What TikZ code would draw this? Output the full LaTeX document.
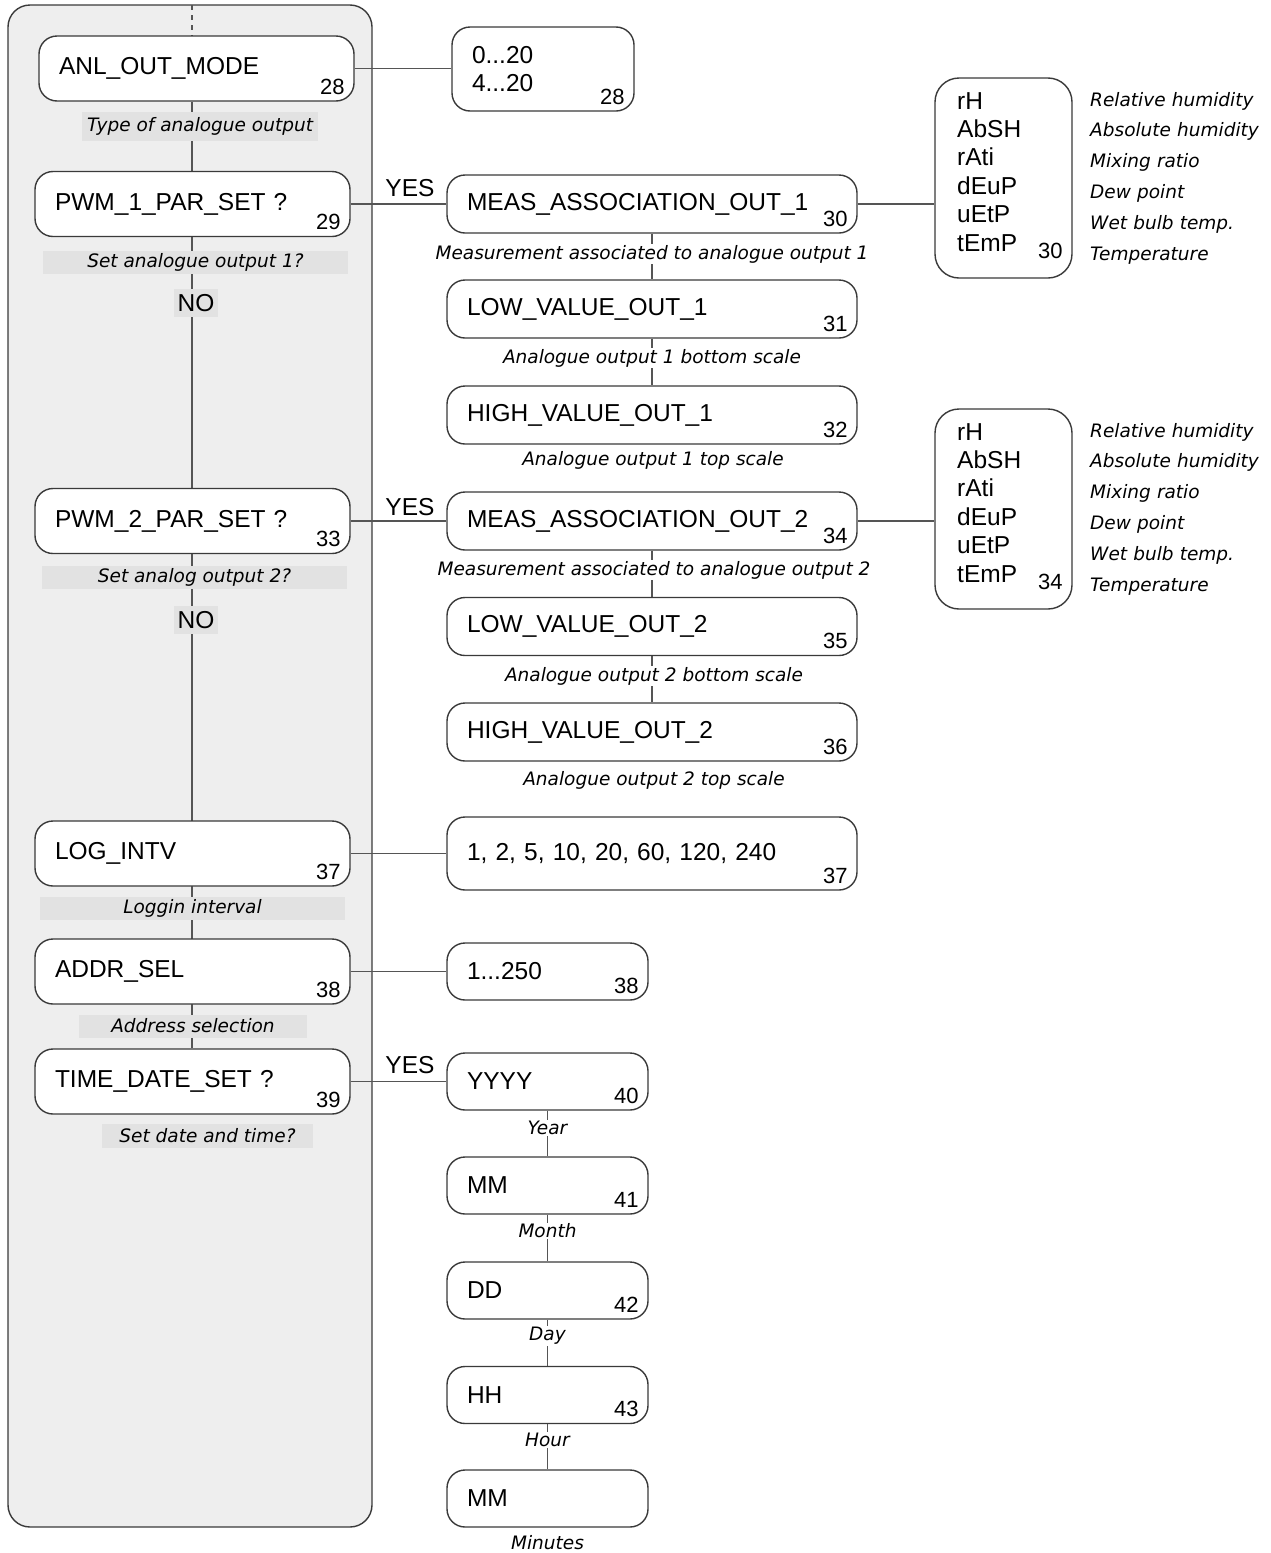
\documentclass[tikz,border=0pt]{standalone}
\usepackage{fontspec}
\setmainfont{Liberation Sans}
\newfontfamily\capfamily{DejaVu Sans}
\usetikzlibrary{backgrounds}

\definecolor{panelgray}{HTML}{EEEEEE}
\definecolor{capgray}{HTML}{E2E2E2}
\definecolor{edgegray}{HTML}{3A3A3A}
\definecolor{linegray}{HTML}{555555}

\tikzset{
  menubox/.style={draw=edgegray, fill=white, line width=1.4pt, rounded corners=18pt,
    inner xsep=20pt, inner ysep=0pt, align=left, font=\fontsize{24.5}{28}\selectfont},
  leftbox/.style={menubox, text width=275pt, minimum height=65pt},
  stepbox/.style={menubox, text width=370pt, minimum height=58pt},
  smallbox/.style={menubox, text width=161pt, minimum height=57pt},
  listbox/.style={menubox, rounded corners=24pt, minimum width=137pt, minimum height=200pt},
  num/.style={anchor=south east, inner sep=0pt, xshift=-10pt, yshift=7pt,
    font=\fontsize{22}{22}\selectfont},
  listnum/.style={num, yshift=13pt},
  captext/.style={font=\capfamily\itshape\fontsize{18.5}{22}\selectfont, inner sep=1pt},
  capbox/.style={captext, fill=capgray, minimum height=23pt},
  whitecap/.style={captext, fill=white},
  listtext/.style={align=left, text width=100pt, inner sep=0pt, font=\fontsize{24.5}{28.4}\selectfont},
  desc/.style={align=left, text width=180pt, inner sep=0pt,
    font=\capfamily\itshape\fontsize{18.5}{30.8}\selectfont},
  yesno/.style={font=\fontsize{24.5}{28}\selectfont, inner sep=1pt},
  nobox/.style={yesno, fill=capgray, minimum width=44pt, minimum height=28pt},
  conn/.style={draw=linegray, line width=1.4pt},
}

\begin{document}
\begin{tikzpicture}[x=1pt, y=-1pt]
  \useasboundingbox (0,0) rectangle (1271,1553);

  % left column
  \coordinate (trunktop) at (192,5);
  \node[leftbox, label={[num]south east:28}] (anl) at (196.5,68.5) {ANL\_OUT\_MODE};
  \node[capbox, minimum width=236pt, minimum height=29pt] (anlcap) at (200,126.5) {Type of analogue output};
  \node[leftbox, label={[num]south east:29}] (pwma) at (192.5,204) {PWM\_1\_PAR\_SET ?};
  \node[capbox, minimum width=305pt] (pwmacap) at (195.5,262) {Set analogue output 1?};
  \node[nobox] (noa) at (196,303) {NO};
  \node[leftbox, label={[num]south east:33}] (pwmb) at (192.5,521) {PWM\_2\_PAR\_SET ?};
  \node[capbox, minimum width=305pt] (pwmbcap) at (194.5,577.5) {Set analog output 2?};
  \node[nobox] (nob) at (196,620) {NO};
  \node[leftbox, label={[num]south east:37}] (logi) at (192.5,853.5) {LOG\_INTV};
  \node[capbox, minimum width=305pt] (logicap) at (192.5,908) {Loggin interval};
  \node[leftbox, label={[num]south east:38}] (addr) at (192.5,971.5) {ADDR\_SEL};
  \node[capbox, minimum width=228pt] (addrcap) at (193,1026) {Address selection};
  \node[leftbox, label={[num]south east:39}] (time) at (192.5,1081.5) {TIME\_DATE\_SET ?};
  \node[capbox, minimum width=211pt, minimum height=24pt] (timecap) at (207.5,1136) {Set date and time?};

  % right column
  \node[menubox, text width=142pt, minimum height=84pt, label={[num]south east:28}] (mode) at (543,69) {0...20\\4...20};

  \node[yesno] (yesa) at (410,188) {YES};
  \node[stepbox, label={[num]south east:30}] (measa) at (652,204) {MEAS\_ASSOCIATION\_OUT\_1};
  \node[whitecap] (measacap) at (652,254) {Measurement associated to analogue output 1};
  \node[stepbox, label={[num]south east:31}] (lowa) at (652,309) {LOW\_VALUE\_OUT\_1};
  \node[whitecap] (lowacap) at (652,358) {Analogue output 1 bottom scale};
  \node[stepbox, label={[num]south east:32}] (higha) at (652,415) {HIGH\_VALUE\_OUT\_1};
  \node[whitecap] (highacap) at (653,460) {Analogue output 1 top scale};

  \node[yesno] (yesb) at (410,507) {YES};
  \node[stepbox, label={[num]south east:34}] (measb) at (652,521) {MEAS\_ASSOCIATION\_OUT\_2};
  \node[whitecap] (measbcap) at (654,570) {Measurement associated to analogue output 2};
  \node[stepbox, label={[num]south east:35}] (lowb) at (652,626.5) {LOW\_VALUE\_OUT\_2};
  \node[whitecap] (lowbcap) at (654,676) {Analogue output 2 bottom scale};
  \node[stepbox, label={[num]south east:36}] (highb) at (652,732) {HIGH\_VALUE\_OUT\_2};
  \node[whitecap] (highbcap) at (654,780) {Analogue output 2 top scale};

  \node[menubox, text width=370pt, minimum height=73pt, label={[num]south east:37}] (logv) at (652,853.5) {1, 2, 5, 10, 20, 60, 120, 240};
  \node[smallbox, label={[num]south east:38}] (addrv) at (547.5,971.5) {1...250};

  \node[yesno] (yesc) at (410,1065) {YES};
  \node[smallbox, label={[num]south east:40}] (year) at (547.5,1081.5) {YYYY};
  \node[whitecap] (yearcap) at (547.5,1128) {Year};
  \node[smallbox, label={[num]south east:41}] (month) at (547.5,1185.5) {MM};
  \node[whitecap] (monthcap) at (547.5,1231) {Month};
  \node[smallbox, label={[num]south east:42}] (day) at (547.5,1290.5) {DD};
  \node[whitecap] (daycap) at (547.5,1336) {Day};
  \node[smallbox, label={[num]south east:43}] (hour) at (547.5,1395) {HH};
  \node[whitecap] (hourcap) at (547.5,1440) {Hour};
  \node[smallbox] (minute) at (547.5,1498.5) {MM};
  \node[whitecap] (minutecap) at (547.5,1543) {Minutes};

  % measurement lists
  \node[listbox, label={[listnum]south east:30}] (lista) at (1003.5,178) {};
  \node[listtext, anchor=base west] (listatxt) at (957,109) {rH\\AbSH\\rAti\\dEuP\\uEtP\\tEmP};
  \node[desc, anchor=base west] (listadesc) at (1090,106) {Relative humidity\\Absolute humidity\\Mixing ratio\\Dew point\\Wet bulb temp.\\Temperature};
  \node[listbox, label={[listnum]south east:34}] (listb) at (1003.5,509) {};
  \node[listtext, anchor=base west] (listbtxt) at (957,440) {rH\\AbSH\\rAti\\dEuP\\uEtP\\tEmP};
  \node[desc, anchor=base west] (listbdesc) at (1090,437) {Relative humidity\\Absolute humidity\\Mixing ratio\\Dew point\\Wet bulb temp.\\Temperature};

  \begin{scope}[on background layer]
    \draw[draw=edgegray, fill=panelgray, line width=1.4pt, rounded corners=22pt] (8,5) rectangle (372,1527);
    \draw[conn, dash pattern=on 5pt off 5pt] (trunktop) -- (anl.north -| trunktop);
    \draw[conn] (anl.south -| trunktop) -- (time.north -| trunktop);
    \draw[conn] (anl.east) -- (anl.east -| mode.west);
    \draw[conn] (pwma.east) -- (measa.west);
    \draw[conn] (measa.east) -- (measa.east -| lista.west);
    \draw[conn] (pwmb.east) -- (measb.west);
    \draw[conn] (measb.east) -- (measb.east -| listb.west);
    \draw[conn] (logi.east) -- (logv.west);
    \draw[conn] (addr.east) -- (addrv.west);
    \draw[conn] (time.east) -- (year.west);
    \draw[conn] (measa) -- (lowa) -- (higha);
    \draw[conn] (measb) -- (lowb) -- (highb);
    \draw[conn] (year) -- (month) -- (day) -- (hour) -- (minute);
  \end{scope}
\end{tikzpicture}
\end{document}
